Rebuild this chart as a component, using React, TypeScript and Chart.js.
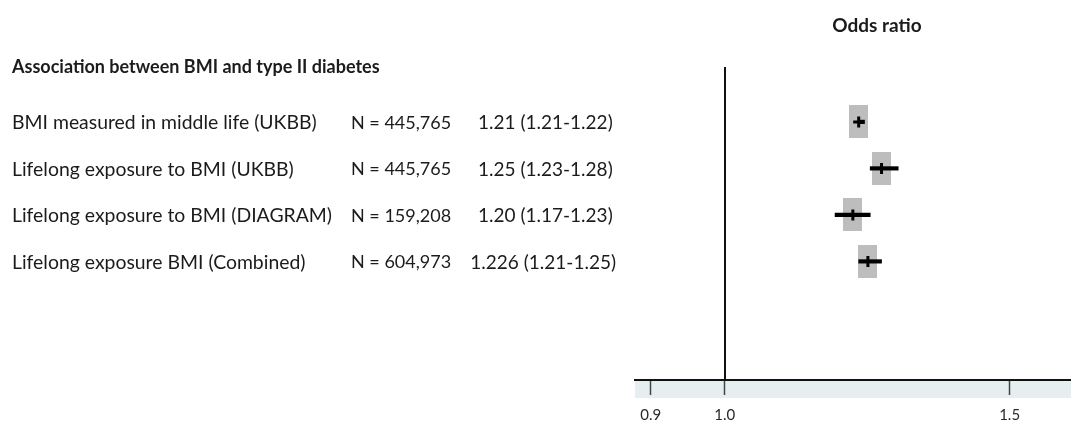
import React, { useEffect, useRef } from "react";
import { Chart, registerables } from "chart.js";

Chart.register(...registerables);

// ---- data ----
const rowLabels = [
  "BMI measured in middle life (UKBB)",
  "Lifelong exposure to BMI (UKBB)",
  "Lifelong exposure to BMI (DIAGRAM)",
  "Lifelong exposure BMI (Combined)",
];
const sampleSizes = ["N = 445,765", "N = 445,765", "N = 159,208", "N = 604,973"];
const oddsRatios = [1.21, 1.25, 1.2, 1.226];
const ciLower = [1.21, 1.23, 1.17, 1.21];
const ciUpper = [1.22, 1.28, 1.23, 1.25];
const axisTicks = [0.9, 1.0, 1.5];
const panelTitle = "Association between BMI and type II diabetes";
const axisTitle = "Odds ratio";

const WIDTH = 1071;
const HEIGHT = 423;
const FONT = "Lato, 'Open Sans', sans-serif";
const TEXT = "#1b1b1b";

// 1.21 -> "1.21", 1.20 -> "1.20", 1.226 -> "1.226"
const fmt = (v: number) => {
  const s = v.toFixed(3);
  return s.endsWith("0") ? v.toFixed(2) : s;
};

function boxSprite(w: number, h: number, color: string) {
  const c = document.createElement("canvas");
  c.width = w;
  c.height = h;
  const g = c.getContext("2d")!;
  g.fillStyle = color;
  g.fillRect(0, 0, w, h);
  return c;
}

const forestDecor = {
  id: "forestDecor",
  beforeDraw(chart: any) {
    const { ctx, chartArea } = chart;
    ctx.save();
    ctx.fillStyle = "#e7eef0";
    ctx.fillRect(chartArea.left, chartArea.bottom + 1, chartArea.right - chartArea.left, 17);
    ctx.restore();
  },
  beforeDatasetsDraw(chart: any) {
    const { ctx, chartArea, scales } = chart;
    const x1 = Math.round(scales.x.getPixelForValue(1));
    ctx.save();
    ctx.strokeStyle = "#111";
    ctx.lineWidth = 2;
    ctx.beginPath();
    ctx.moveTo(x1, chartArea.top);
    ctx.lineTo(x1, chartArea.bottom);
    ctx.stroke();
    ctx.restore();
  },
  afterDraw(chart: any) {
    const { ctx, scales } = chart;
    ctx.save();
    ctx.fillStyle = TEXT;
    ctx.textBaseline = "middle";
    ctx.textAlign = "left";
    ctx.font = `bold 18px ${FONT}`;
    ctx.fillText(panelTitle, 12, 67);
    ctx.textAlign = "center";
    ctx.font = `bold 19px ${FONT}`;
    ctx.fillText(axisTitle, 877, 26);
    ctx.textAlign = "left";
    rowLabels.forEach((label, i) => {
      const y = scales.y.getPixelForValue(i) + 1;
      ctx.font = `19.4px ${FONT}`;
      ctx.fillText(label, 12, y);
      ctx.font = `18px ${FONT}`;
      ctx.fillText(sampleSizes[i], 351, y);
      ctx.font = `19px ${FONT}`;
      const orText = `${fmt(oddsRatios[i])} (${fmt(ciLower[i])}-${fmt(ciUpper[i])})`;
      // longer estimates start a little further left so the column ends line up
      const w = ctx.measureText(orText).width;
      ctx.fillText(orText, Math.min(478, 616 - w), y);
    });
    ctx.restore();
  },
};

export default function App() {
  const ref = useRef<HTMLCanvasElement | null>(null);

  useEffect(() => {
    document.body.style.margin = "0";
    document.body.style.overflow = "hidden";
    const canvas = ref.current;
    if (!canvas) return;

    const box = boxSprite(19, 33, "#bdbdbd");

    const chart = new Chart(canvas, {
      type: "bar",
      data: {
        datasets: [
          {
            type: "scatter",
            label: "estimate",
            data: oddsRatios.map((v, i) => ({ x: v, y: i })),
            pointStyle: "cross",
            pointRadius: 5.5,
            pointBorderWidth: 3,
            borderColor: "#000",
            backgroundColor: "#000",
            order: 0,
          } as any,
          {
            type: "bar",
            label: "95% CI",
            indexAxis: "y",
            data: ciLower.map((lo, i) => ({ y: i, x: [lo, ciUpper[i]] })),
            backgroundColor: "#000",
            borderWidth: 0,
            barThickness: 3.5,
            order: 1,
          } as any,
          {
            type: "scatter",
            label: "weight",
            data: oddsRatios.map((v, i) => ({ x: v, y: i })),
            pointStyle: box,
            pointRadius: 10,
            order: 2,
          } as any,
        ],
      },
      options: {
        responsive: false,
        animation: false,
        events: [],
        layout: {
          autoPadding: false,
          padding: { left: 635, top: 67, right: 0, bottom: 0 },
        },
        plugins: {
          legend: { display: false },
          tooltip: { enabled: false },
          title: { display: false },
        },
        scales: {
          x: {
            type: "logarithmic",
            position: "bottom",
            offset: false,
            min: 0.884,
            max: 1.637,
            afterBuildTicks: (scale: any) => {
              scale.ticks = axisTicks.map((v) => ({ value: v }));
            },
            afterFit: (scale: any) => {
              // the axis runs to the canvas edge; no room reserved for edge labels
              scale.height = 43;
              scale.paddingLeft = 0;
              scale.paddingRight = 0;
            },
            ticks: {
              autoSkip: false,
              maxRotation: 0,
              padding: 11,
              color: "#2a2a2a",
              font: { family: FONT, size: 15 },
              callback: (v: any) => Number(v).toFixed(1),
            },
            grid: {
              offset: false,
              drawOnChartArea: false,
              drawTicks: true,
              tickLength: 15,
              tickColor: "#444",
              tickWidth: 1.5,
            },
            border: { display: true, color: "#111", width: 2 },
          },
          y: {
            type: "linear",
            display: false,
            offset: false,
            reverse: true,
            min: -1.18,
            max: 5.55,
            grid: { offset: false },
          },
        },
      },
      plugins: [forestDecor],
    } as any);

    return () => chart.destroy();
  }, []);

  return (
    <div style={{ width: WIDTH, height: HEIGHT, background: "#fff", overflow: "hidden" }}>
      <canvas ref={ref} width={WIDTH} height={HEIGHT} style={{ display: "block" }} />
    </div>
  );
}
